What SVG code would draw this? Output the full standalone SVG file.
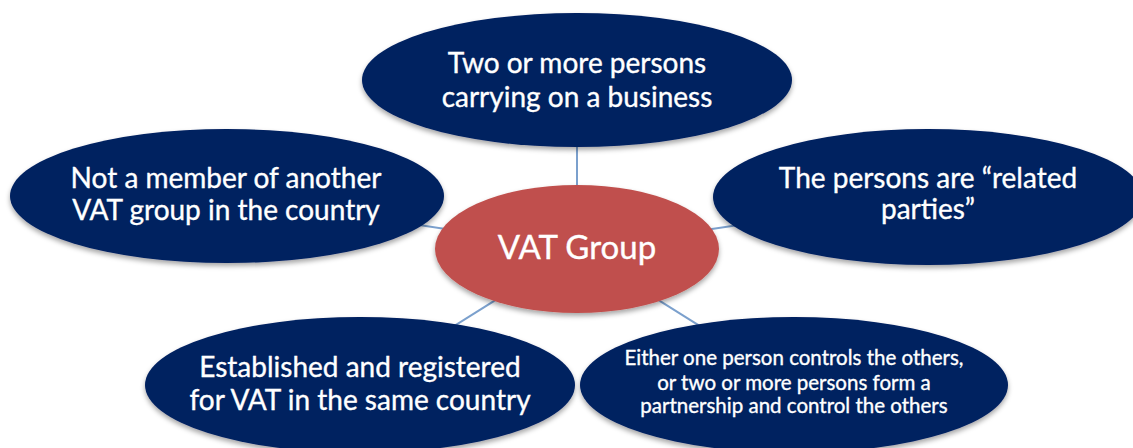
<svg xmlns="http://www.w3.org/2000/svg" width="1133" height="448" viewBox="0 0 1133 448">
<defs>
<filter id="sh" x="-10%" y="-10%" width="120%" height="130%">
<feDropShadow dx="0" dy="3" stdDeviation="2.5" flood-color="#000" flood-opacity="0.35"/>
</filter>
<style>
.n{fill:#002060;filter:url(#sh)}
.c{fill:#C0504D;filter:url(#sh)}
.t{font-family:Lato,"Open Sans",sans-serif;fill:#fff;stroke:#fff;stroke-width:0.35;text-anchor:middle}
.l{font-size:28px}
.s{font-size:20.5px}
.conn line{stroke:#7BA0CD;stroke-width:2}
</style>
</defs>
<rect width="1133" height="448" fill="#fff"/>
<g id="connectors" class="conn">
<line x1="577" y1="249" x2="577" y2="80"/>
<line x1="577" y1="249" x2="227" y2="196"/>
<line x1="577" y1="249" x2="928" y2="197"/>
<line x1="577" y1="249" x2="360" y2="385"/>
<line x1="577" y1="249" x2="794" y2="385"/>
</g>
<g id="node-top">
<ellipse class="n" cx="577" cy="80" rx="215" ry="67"/>
<text class="t l" x="577" y="73">Two or more persons</text>
<text class="t l" x="577" y="107">carrying on a business</text>
</g>
<g id="node-left">
<ellipse class="n" cx="227" cy="196" rx="217" ry="67"/>
<text class="t l" x="226" y="188">Not a member of another</text>
<text class="t l" x="226" y="220">VAT group in the country</text>
</g>
<g id="node-right">
<ellipse class="n" cx="928" cy="197" rx="215" ry="68"/>
<text class="t l" x="928" y="188">The persons are “related</text>
<text class="t l" x="928" y="219">parties”</text>
</g>
<g id="node-center">
<ellipse class="c" cx="577" cy="249" rx="142" ry="64"/>
<text class="t" x="577" y="259" font-size="33">VAT Group</text>
</g>
<g id="node-bottom-left">
<ellipse class="n" cx="360" cy="385" rx="215" ry="68"/>
<text class="t l" x="360" y="377">Established and registered</text>
<text class="t l" x="360" y="410">for VAT in the same country</text>
</g>
<g id="node-bottom-right">
<ellipse class="n" cx="794" cy="385" rx="214" ry="68"/>
<text class="t s" x="794" y="365">Either one person controls the others,</text>
<text class="t s" x="794" y="390">or two or more persons form a</text>
<text class="t s" x="794" y="413">partnership and control the others</text>
</g>
</svg>
